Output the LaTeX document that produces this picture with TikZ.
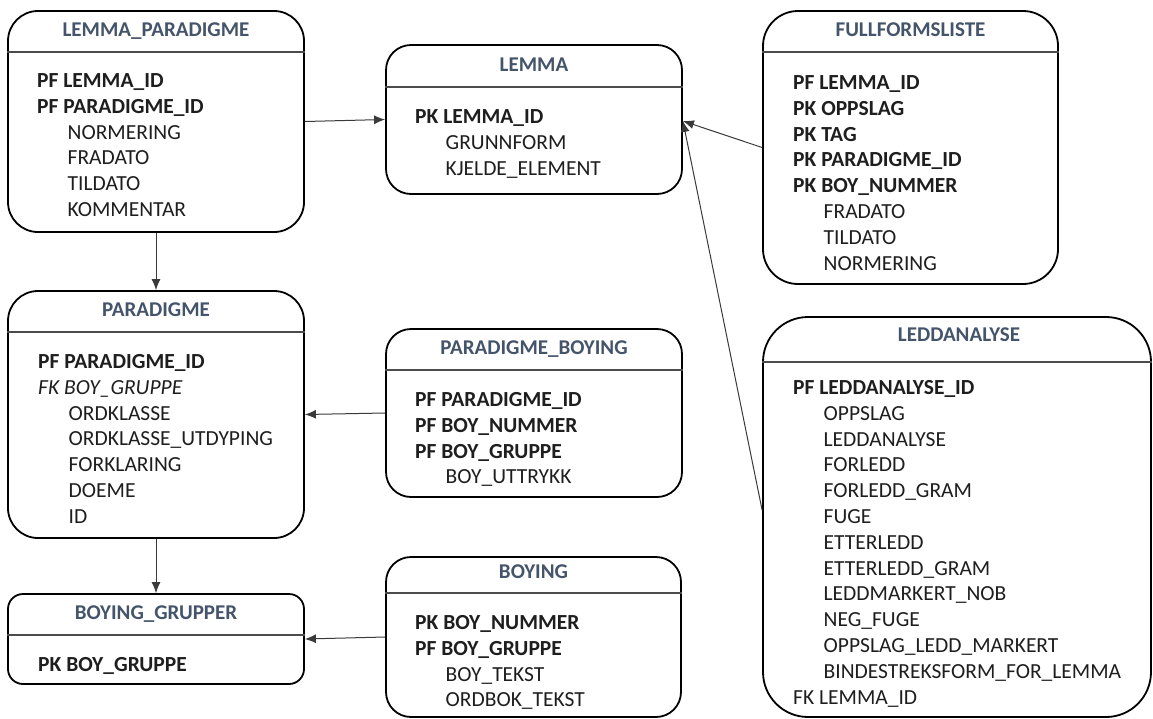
\documentclass[tikz,border=0pt]{standalone}
\usepackage{fontspec}
\setmainfont{Carlito}
\usetikzlibrary{arrows.meta}
\definecolor{ttlc}{HTML}{44546A}
\definecolor{txtc}{HTML}{1E1E1E}
\definecolor{linec}{HTML}{3A3A3A}
\newcommand\K[1]{\textbf{#1}}
\newcommand\IN[1]{\hspace*{30.5pt}#1}
\newcommand\tablerows[4]{\foreach \rowtext [count=\ri] in {#4}{\node[row] (#1-\ri) at (#2,{#3+(\ri-1)*25.8}) {\rowtext};}}
\tikzset{
 tbl/.style={draw=black, line width=1.8pt, fill=white, inner sep=0pt},
 hdr/.style={draw=black!70, line width=1.1pt},
 ttl/.style={anchor=base, inner sep=0pt, font=\fontsize{21}{24}\selectfont\bfseries, text=ttlc},
 row/.style={anchor=base west, inner sep=0pt, font=\fontsize{21.5}{25}\selectfont, text=txtc},
 conn/.style={draw=linec, line width=1pt, -{Latex[length=11pt,width=9pt]}},
}
\begin{document}
\begin{tikzpicture}[x=1pt,y=-1pt]
\useasboundingbox (0,0) rectangle (1153,718);

% LEMMA_PARADIGME
\node[tbl, rounded corners=30pt, minimum width=296pt, minimum height=221pt] (lp) at (156,121.5) {};
\draw[hdr] (lp.west |- 0,52) -- (lp.east |- 0,52);
\node[ttl] (lp-t) at (156,36.5) {LEMMA\_PARADIGME};
\tablerows{lp}{37}{87.5}{\K{PF LEMMA\_ID},\K{PF PARADIGME\_ID},\IN{NORMERING},\IN{FRADATO},\IN{TILDATO},\IN{KOMMENTAR}}

% LEMMA
\node[tbl, rounded corners=25pt, minimum width=296pt, minimum height=149pt] (lemma) at (534,119.5) {};
\draw[hdr] (lemma.west |- 0,87) -- (lemma.east |- 0,87);
\node[ttl] (lemma-t) at (534,71.5) {LEMMA};
\tablerows{lemma}{415}{123.5}{\K{PK LEMMA\_ID},\IN{GRUNNFORM},\IN{KJELDE\_ELEMENT}}

% FULLFORMSLISTE
\node[tbl, rounded corners=35pt, minimum width=295pt, minimum height=273pt] (ff) at (910.5,147.5) {};
\draw[hdr] (ff.west |- 0,52) -- (ff.east |- 0,52);
\node[ttl] (ff-t) at (910.5,36.5) {FULLFORMSLISTE};
\tablerows{ff}{793}{89.5}{\K{PF LEMMA\_ID},\K{PK OPPSLAG},\K{PK TAG},\K{PK PARADIGME\_ID},\K{PK BOY\_NUMMER},\IN{FRADATO},\IN{TILDATO},\IN{NORMERING}}

% PARADIGME
\node[tbl, rounded corners=30pt, minimum width=296pt, minimum height=247pt] (par) at (156,414.5) {};
\draw[hdr] (par.west |- 0,332) -- (par.east |- 0,332);
\node[ttl] (par-t) at (156,316.5) {PARADIGME};
\tablerows{par}{38}{368.5}{\K{PF PARADIGME\_ID},\textit{FK BOY\_GRUPPE},\IN{ORDKLASSE},\IN{ORDKLASSE\_UTDYPING},\IN{FORKLARING},\IN{DOEME},\IN{ID}}

% BOYING_GRUPPER
\node[tbl, rounded corners=15pt, minimum width=296pt, minimum height=90pt] (bg) at (156,639) {};
\draw[hdr] (bg.west |- 0,635) -- (bg.east |- 0,635);
\node[ttl] (bg-t) at (156,619.5) {BOYING\_GRUPPER};
\tablerows{bg}{38}{671.5}{\K{PK BOY\_GRUPPE}}

% PARADIGME_BOYING
\node[tbl, rounded corners=25pt, minimum width=296pt, minimum height=168pt] (pb) at (534,413) {};
\draw[hdr] (pb.west |- 0,370) -- (pb.east |- 0,370);
\node[ttl] (pb-t) at (534,354.5) {PARADIGME\_BOYING};
\tablerows{pb}{415}{406.5}{\K{PF PARADIGME\_ID},\K{PF BOY\_NUMMER},\K{PF BOY\_GRUPPE},\IN{BOY\_UTTRYKK}}

% BOYING
\node[tbl, rounded corners=25pt, minimum width=295pt, minimum height=160pt] (boy) at (533.5,637) {};
\draw[hdr] (boy.west |- 0,593) -- (boy.east |- 0,593);
\node[ttl] (boy-t) at (533.5,578.5) {BOYING};
\tablerows{boy}{415}{629.5}{\K{PK BOY\_NUMMER},\K{PF BOY\_GRUPPE},\IN{BOY\_TEKST},\IN{ORDBOK\_TEKST}}

% LEDDANALYSE
\node[tbl, rounded corners=45pt, minimum width=388pt, minimum height=400pt] (ledd) at (957,517) {};
\draw[hdr] (ledd.west |- 0,362) -- (ledd.east |- 0,362);
\node[ttl] (ledd-t) at (959,341.5) {LEDDANALYSE};
\tablerows{ledd}{793}{394.5}{\K{PF LEDDANALYSE\_ID},\IN{OPPSLAG},\IN{LEDDANALYSE},\IN{FORLEDD},\IN{FORLEDD\_GRAM},\IN{FUGE},\IN{ETTERLEDD},\IN{ETTERLEDD\_GRAM},\IN{LEDDMARKERT\_NOB},\IN{NEG\_FUGE},\IN{OPPSLAG\_LEDD\_MARKERT},\IN{BINDESTREKSFORM\_FOR\_LEMMA},FK LEMMA\_ID}

% connectors
\draw[conn] (lp.east) -- (lemma.west);
\draw[conn] (ff.west) -- ([yshift=-1.5pt]lemma.east);
\draw[conn] ([yshift=7pt]ledd.west) -- ([yshift=-1.5pt]lemma.east);
\draw[conn] (lp.south) -- (par.north);
\draw[conn] (par.south) -- (bg.north);
\draw[conn] (pb.west) -- (par.east);
\draw[conn] (boy.west) -- (bg.east);
\end{tikzpicture}
\end{document}
